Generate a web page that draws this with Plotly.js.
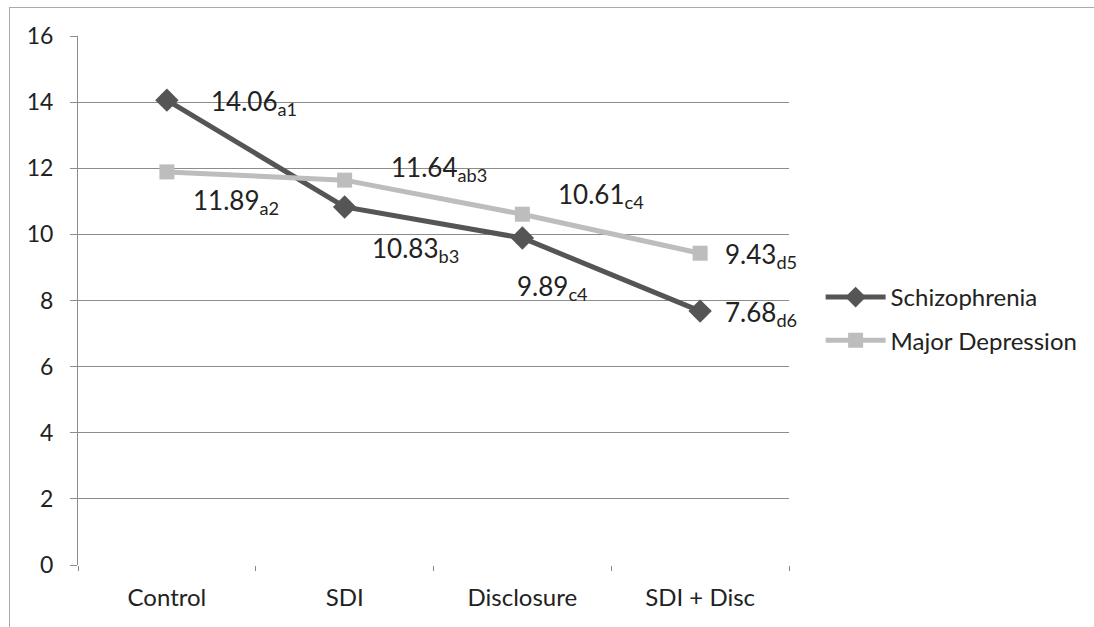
<!DOCTYPE html>
<html>
<head>
<meta charset="utf-8">
<script src="https://cdn.plot.ly/plotly-3.0.1.min.js"></script>
<style>
html,body{margin:0;padding:0;background:#fff;}
#wrap{position:absolute;left:0;top:0;width:1094px;height:627px;}
#frame{position:absolute;left:9px;top:7px;width:1085px;height:620px;border-left:1px solid #aaa;border-top:1px solid #aaa;}
#chart{position:absolute;left:0;top:0;width:1094px;height:627px;}
</style>
</head>
<body>
<div id="wrap"><div id="frame"></div><div id="chart"></div></div>
<script>
const categories = ["Control", "SDI", "Disclosure", "SDI + Disc"];
const schizophrenia = [14.06, 10.83, 9.89, 7.68];
const majorDepression = [11.89, 11.64, 10.61, 9.43];
const schizLabels = ["14.06<sub>a1</sub>", "10.83<sub>b3</sub>", "9.89<sub>c4</sub>", "7.68<sub>d6</sub>"];
const mdLabels = ["11.89<sub>a2</sub>", "11.64<sub>ab3</sub>", "10.61<sub>c4</sub>", "9.43<sub>d5</sub>"];
const yTicks = [0, 2, 4, 6, 8, 10, 12, 14, 16];

const FONT = "Lato, 'Open Sans', sans-serif";
const TXT = "#222222";
const schizColor = "#555555";
const mdColor = "#bdbdbd";

// label offsets (px) relative to each point
const schizShift = [[42, -2], [25, -43], [-7, -49], [23, -2]];
const mdShift = [[24, -30], [44, 12], [34, 19], [23, -2]];

const traces = [
  {
    x: categories, y: schizophrenia, name: "Schizophrenia", type: "scatter", mode: "lines+markers",
    legendgroup: "s",
    line: {color: schizColor, width: 5},
    marker: {symbol: "diamond", size: 18, color: schizColor}
  },
  {
    x: categories, y: majorDepression, name: "Major Depression", type: "scatter", mode: "lines+markers",
    legendgroup: "m",
    line: {color: mdColor, width: 5},
    marker: {symbol: "square", size: 15, color: mdColor}
  }
];

const annotations = [];
categories.forEach((c, i) => {
  annotations.push({x: c, y: schizophrenia[i], text: schizLabels[i], showarrow: false,
    xanchor: "left", yanchor: "middle", xshift: schizShift[i][0], yshift: schizShift[i][1],
    font: {family: FONT, size: 26, color: TXT}});
  annotations.push({x: c, y: majorDepression[i], text: mdLabels[i], showarrow: false,
    xanchor: "left", yanchor: "middle", xshift: mdShift[i][0], yshift: mdShift[i][1],
    font: {family: FONT, size: 26, color: TXT}});
});

const layout = {
  width: 1094, height: 627,
  margin: {l: 78, r: 304, t: 36, b: 62},
  paper_bgcolor: "rgba(0,0,0,0)", plot_bgcolor: "rgba(0,0,0,0)",
  font: {family: FONT, color: TXT},
  showlegend: true,
  legend: {x: 1.043, y: 0.465, xanchor: "left", yanchor: "middle",
    font: {family: FONT, size: 24, color: TXT}, itemwidth: 60,
    traceorder: "grouped", tracegroupgap: 9,
    bgcolor: "rgba(0,0,0,0)"},
  xaxis: {
    type: "category", categoryorder: "array", categoryarray: categories,
    range: [-0.5, 3.5], showgrid: false, zeroline: false,
    showline: false, ticks: "outside", tickson: "boundaries", ticklen: 5,
    tickcolor: "#888", tickfont: {family: FONT, size: 24, color: TXT},
    ticklabelstandoff: 16
  },
  yaxis: {
    range: [0, 16], tickmode: "array", tickvals: yTicks, showgrid: true,
    gridcolor: "#8c8c8c", gridwidth: 1, zeroline: false,
    showline: true, linecolor: "#8c8c8c", linewidth: 1,
    ticks: "outside", ticklen: 7, tickcolor: "#8c8c8c",
    tickfont: {family: FONT, size: 23, color: TXT}, ticklabelstandoff: 12
  },
  annotations: annotations
};

Plotly.newPlot("chart", traces, layout, {displayModeBar: false, staticPlot: true});
</script>
</body>
</html>
